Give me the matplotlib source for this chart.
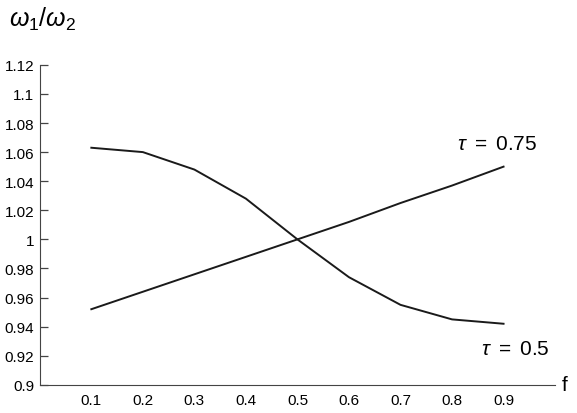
import numpy as np
import matplotlib
matplotlib.use("Agg")
from matplotlib import pyplot as plt

plt.rcParams['font.family'] = ['Liberation Sans', 'DejaVu Sans']
plt.rcParams['mathtext.fontset'] = 'custom'
plt.rcParams['mathtext.rm'] = 'Liberation Sans'
plt.rcParams['mathtext.it'] = 'Liberation Sans:italic'

# data
f_vals = [0.1, 0.2, 0.3, 0.4, 0.5, 0.6, 0.7, 0.8, 0.9]
tau_05 = [1.063, 1.060, 1.048, 1.028, 1.000, 0.974, 0.955, 0.945, 0.942]
tau_075 = [0.952, 0.964, 0.976, 0.988, 1.000, 1.012, 1.025, 1.037, 1.050]
y_ticks = [0.9, 0.92, 0.94, 0.96, 0.98, 1.0, 1.02, 1.04, 1.06, 1.08, 1.1, 1.12]
y_labels = ['0.9', '0.92', '0.94', '0.96', '0.98', '1', '1.02', '1.04', '1.06', '1.08', '1.1', '1.12']

fig = plt.figure(figsize=(5.77, 4.14), dpi=100)
ax = fig.add_axes([0.069, 0.068, 0.893, 0.773])

ax.plot(f_vals, tau_05, color='#1a1a1a', lw=1.4)
ax.plot(f_vals, tau_075, color='#1a1a1a', lw=1.4)

ax.set_xlim(0, 1.0)
ax.set_ylim(0.9, 1.12)
ax.set_xticks(f_vals)
ax.set_xticklabels([str(v) for v in f_vals])
ax.set_yticks(y_ticks)
ax.set_yticklabels(y_labels)

ax.spines['top'].set_visible(False)
ax.spines['right'].set_visible(False)
ax.spines['left'].set_color('#444444')
ax.spines['bottom'].set_color('#444444')
ax.tick_params(axis='y', direction='in', length=6, width=0.9, color='#444444',
               labelsize=11, pad=4)
ax.tick_params(axis='x', length=0, labelsize=11, pad=6)

ax.text(0.81, 1.066, r'$\tau$ $=$ 0.75', fontsize=15, ha='left', va='center')
ax.text(0.856, 0.925, r'$\tau$ $=$ 0.5', fontsize=15, ha='left', va='center')

fig.text(0.979, 0.068, 'f', fontsize=15, ha='center', va='center')
fig.text(0.015, 0.952, r'$\omega_{\mathrm{1}}/\omega_{\mathrm{2}}$', fontsize=18,
         ha='left', va='center')

fig.savefig('out.png', dpi=100)
